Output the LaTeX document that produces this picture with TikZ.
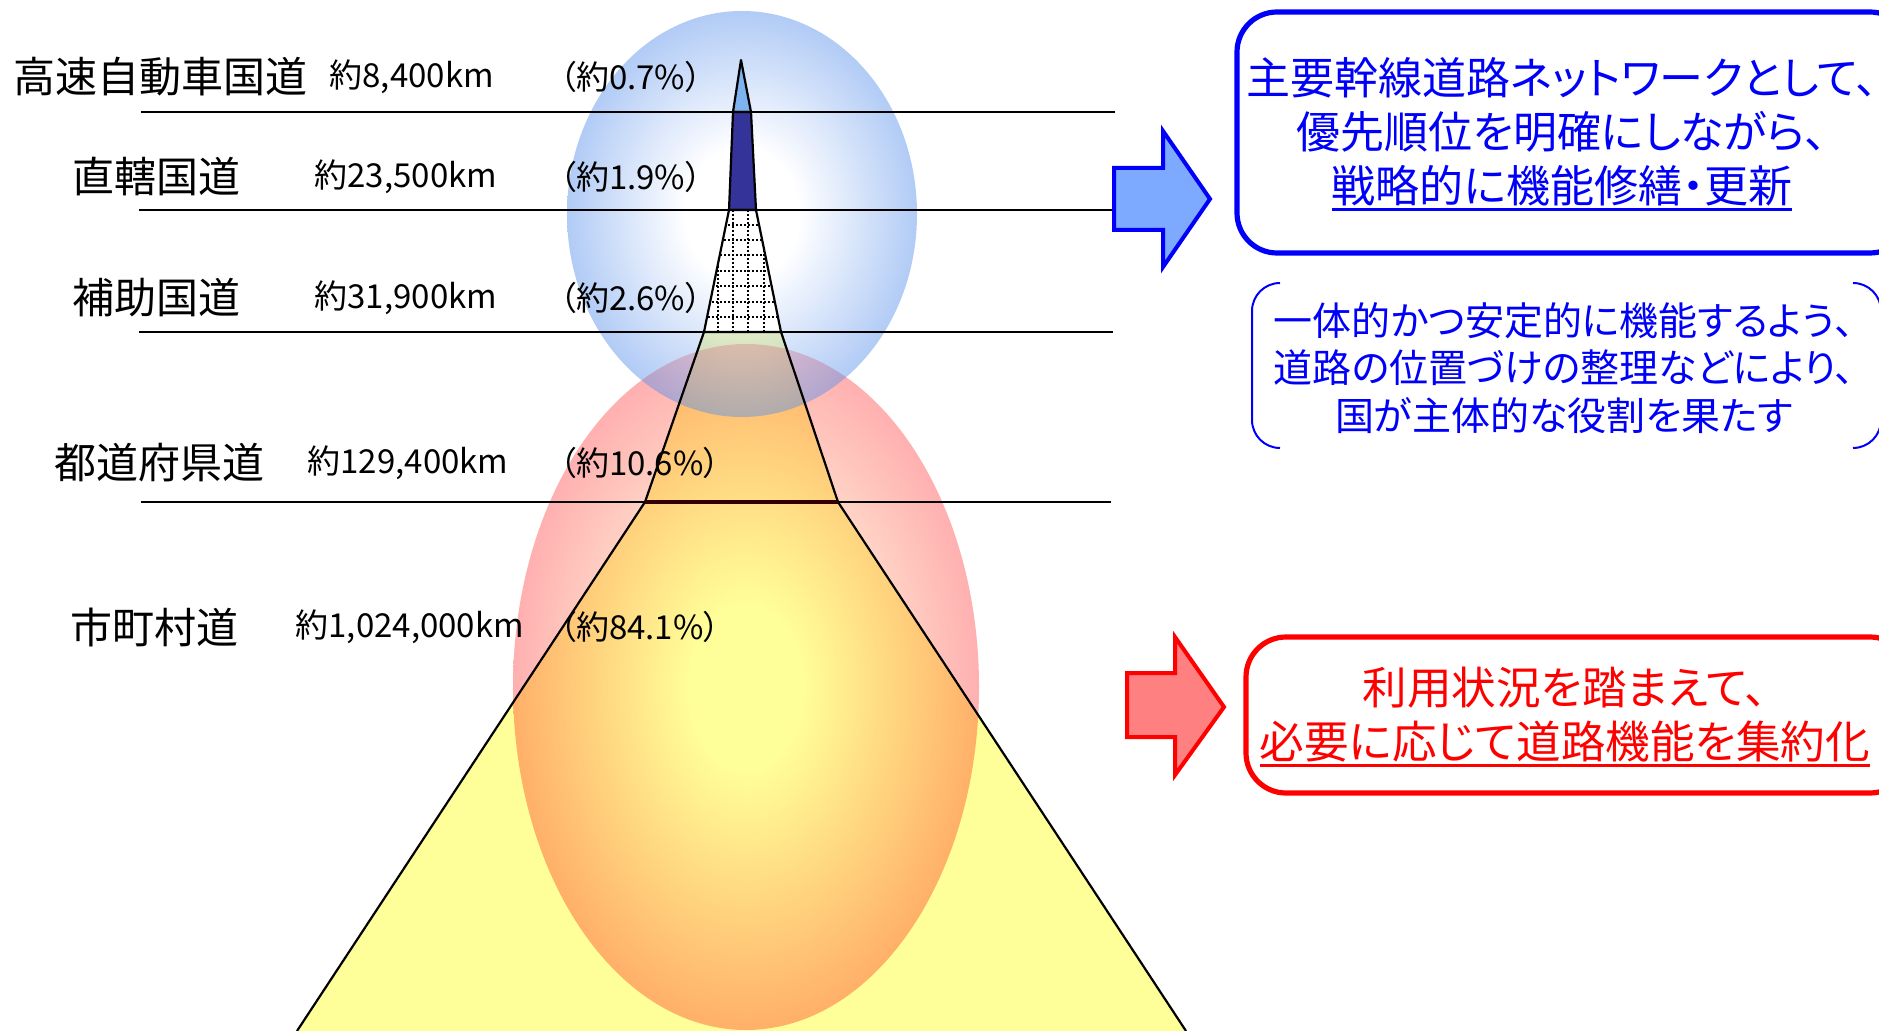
\documentclass[tikz,border=0pt]{standalone}
\usepackage{fontspec}
\setmainfont[RawFeature=+palt]{Noto Sans CJK JP}

\definecolor{roadyellow}{RGB}{255,255,153}
\definecolor{tipblue}{RGB}{125,180,240}
\definecolor{darkroad}{RGB}{51,51,153}
\definecolor{jpblue}{RGB}{0,0,250}
\definecolor{jpred}{RGB}{255,0,0}
\definecolor{arrowblue}{RGB}{125,170,255}
\definecolor{arrowred}{RGB}{255,128,128}
\definecolor{hazeblue}{RGB}{90,145,235}

\pgfdeclareradialshading{warmhaze}{\pgfpoint{0bp}{0bp}}{%
  color(0bp)=(roadyellow); color(6bp)=(roadyellow); color(25bp)=(red); color(50bp)=(red)}
\pgfdeclareradialshading{coolhaze}{\pgfpoint{0bp}{0bp}}{%
  color(0bp)=(white); color(8bp)=(white); color(25bp)=(hazeblue); color(50bp)=(hazeblue)}

\newcommand\roadul[1]{\setbox0=\hbox{#1}\rlap{\rule[-0.2em]{\wd0}{0.07em}}\box0}

\begin{document}
\begin{tikzpicture}[x=0.5pt,y=-0.5pt,semithick]
	  \tikzstyle{roadname}=[anchor=west,inner sep=0pt,font=\fontsize{21pt}{25pt}\selectfont]
	  \tikzstyle{roadlen}=[anchor=west,inner sep=0pt,font=\fontsize{16.5pt}{20pt}\selectfont]
	  \tikzstyle{sepline}=[draw=black,line width=1pt]
	  \tikzstyle{seg}=[draw=black,line width=1.1pt,line join=round]
	  \tikzstyle{blockarrow}=[line width=2pt,line join=miter]
	  \tikzstyle{msgbox}=[line width=2.6pt,rounded corners=20pt]
	  \tikzstyle{boxtext}=[align=center,inner sep=0pt]

	  \useasboundingbox (0,0) rectangle (1879,1031);
	  \clip (0,0) rectangle (1879,1031);

	  % pyramid body
	  \fill[roadyellow] (645,502) -- (838,502) -- (1186,1031) -- (297,1031) -- cycle;
	  \fill[roadyellow] (704,332) -- (781,332) -- (838,502) -- (645,502) -- cycle;

	  % haze ellipses
	  \shade[shading=warmhaze, opacity=0.31]
	    (746,687) ellipse [x radius=116.5pt, y radius=171.5pt];
	  \shade[shading=coolhaze, opacity=0.47]
	    (742,214) ellipse [x radius=87.5pt, y radius=101.5pt];

	  % top of the pyramid
	  \filldraw[seg,fill=tipblue] (741,60) -- (751,112) -- (733,112) -- cycle;
	  \filldraw[seg,fill=darkroad] (733,112) -- (751,112) -- (756,210) -- (729,210) -- cycle;
	  \filldraw[seg,fill=white] (729,210) -- (756,210) -- (781,332) -- (704,332) -- cycle;
	  \begin{scope}
	    \clip (729,210) -- (756,210) -- (781,332) -- (704,332) -- cycle;
	    \foreach \gx in {718,733,748,764}
	      \draw[densely dotted,line width=1pt] (\gx,210) -- (\gx,332);
	    \foreach \gy in {225,240,255,271,286,302,317}
	      \draw[densely dotted,line width=1pt] (700,\gy) -- (790,\gy);
	  \end{scope}
	  \draw[seg] (704,332) -- (645,502) -- (297,1031);
	  \draw[seg] (781,332) -- (838,502) -- (1186,1031);

	  % class lines
	  \foreach \ly/\lx/\rx in {112/141/1115, 210/139/1118, 332/139/1113, 502/141/1111}
	    \draw[sepline] (\lx,\ly) -- (\rx,\ly);
	  \draw[line width=2pt,draw=black!80!red] (645,502) -- (838,502);

	  % road classes
	  \node[roadname] (expy) at (13,77) {高速自動車国道};
	  \node[roadlen] (expylen) at (329,77) {約8,400km};
	  \node[roadlen] (expypct) at (559,77) {（約0.7\%）};

	  \node[roadname] (direct) at (72,177) {直轄国道};
	  \node[roadlen] (directlen) at (314,177) {約23,500km};
	  \node[roadlen] (directpct) at (559,177) {（約1.9\%）};

	  \node[roadname] (aided) at (72,298) {補助国道};
	  \node[roadlen] (aidedlen) at (314,298) {約31,900km};
	  \node[roadlen] (aidedpct) at (559,298) {（約2.6\%）};

	  \node[roadname] (pref) at (54,463) {都道府県道};
	  \node[roadlen] (preflen) at (307,463) {約129,400km};
	  \node[roadlen] (prefpct) at (559,463) {（約10.6\%）};

	  \node[roadname] (muni) at (70,627) {市町村道};
	  \node[roadlen] (munilen) at (295,627) {約1,024,000km};
	  \node[roadlen] (munipct) at (559,627) {（約84.1\%）};

	  % block arrows
	  \filldraw[blockarrow,draw=jpblue,fill=arrowblue]
	    (1114,168) -- (1163,168) -- (1163,131) -- (1210,199) -- (1163,267) -- (1163,230) -- (1114,230) -- cycle;
	  \filldraw[blockarrow,draw=jpred,fill=arrowred]
	    (1127,673) -- (1175,673) -- (1175,637) -- (1224,707) -- (1175,775) -- (1175,737) -- (1127,737) -- cycle;

	  % message boxes
	  \draw[msgbox,draw=jpblue] (1237,12) rectangle (1910,253);
	  \node[boxtext,text=jpblue,font=\fontsize{22pt}{27pt}\selectfont] (trunk) at (1562,134)
	    {主要幹線道路ネットワークとして、\\優先順位を明確にしながら、\\\roadul{戦略的に機能修繕・更新}};

	  \draw[jpblue,line width=1pt,rounded corners=14pt] (1280,283) -- (1252,283) -- (1252,448) -- (1280,448);
	  \draw[jpblue,line width=1pt,rounded corners=14pt] (1853,283) -- (1881,283) -- (1881,448) -- (1853,448);
	  \node[boxtext,text=jpblue,font=\fontsize{19.5pt}{23.75pt}\selectfont] (role) at (1564,368)
	    {一体的かつ安定的に機能するよう、\\道路の位置づけの整理などにより、\\国が主体的な役割を果たす};

	  \draw[msgbox,draw=jpred] (1246,637) rectangle (1910,793);
	  \node[boxtext,text=jpred,font=\fontsize{22.3pt}{27pt}\selectfont] (merge) at (1565,717)
	    {利用状況を踏まえて、\\\roadul{必要に応じて道路機能を集約化}};
\end{tikzpicture}
\end{document}
